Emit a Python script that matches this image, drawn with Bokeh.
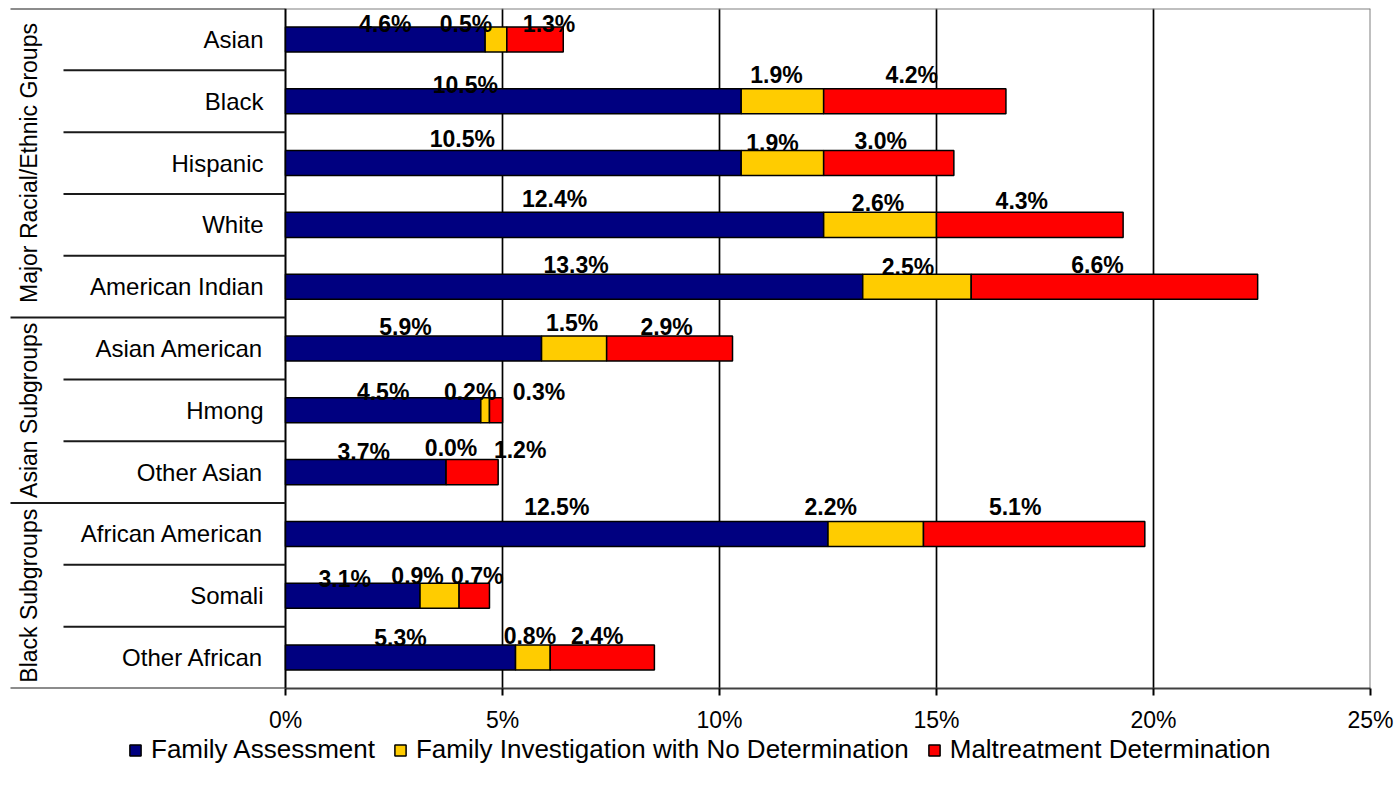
import math
from bokeh.plotting import figure
from bokeh.layouts import column
from bokeh.models import (ColumnDataSource, Range1d, FixedTicker,
                          Legend, LegendItem)
from bokeh.core.properties import value
from bokeh.embed import file_html
from bokeh.resources import INLINE

# ---------------- data ----------------
categories = ["Asian", "Black", "Hispanic", "White", "American Indian",
              "Asian American", "Hmong", "Other Asian",
              "African American", "Somali", "Other African"]
family_assessment = [4.6, 10.5, 10.5, 12.4, 13.3, 5.9, 4.5, 3.7, 12.5, 3.1, 5.3]
no_determination = [0.5, 1.9, 1.9, 2.6, 2.5, 1.5, 0.2, 0.0, 2.2, 0.9, 0.8]
maltreatment = [1.3, 4.2, 3.0, 4.3, 6.6, 2.9, 0.3, 1.2, 5.1, 0.7, 2.4]
series_names = ["Family Assessment",
                "Family Investigation with No Determination",
                "Maltreatment Determination"]
groups = ["Major Racial/Ethnic Groups", "Asian Subgroups", "Black Subgroups"]
group_sizes = [5, 3, 3]
x_ticks = [0, 5, 10, 15, 20, 25]

# label nudges in pixels (style only), per category x series
label_dx = [[0, -30, 14], [-48, -6, -3], [-51, -10, -8], [0, -2, -8],
            [2, -9, -17], [-8, -2, -3], [0, -15, 43], [-2, 5, 48],
            [0, -45, -19], [-8, -22, 3], [0, -3, -5]]
label_dy = [[1, 1, 1], [0, -10, -10], [-8, -4, -6], [-9, -5, -7],
            [-5, -3, -5], [-5, -9, -5], [-2, -2, -2], [-4, -8, -6],
            [-10, -10, -10], [0, -3, -3], [-3, -5, -5]]

# ---------------- style / layout ----------------
COLORS = ["#000080", "#FFCC00", "#FF0000"]
FONT = "Liberation Sans"
BAR_H = 0.405
W = 1398
H_MAIN = 735
H_LEG = 30
LABEL_AREA = 285          # px left of the 0% line
RIGHT_PAD = 28
TOP_PAD = 8
BOTTOM_PAD = H_MAIN - 688
X_MAX = x_ticks[-1]
plot_w = W - LABEL_AREA - RIGHT_PAD
x_start = -X_MAX * LABEL_AREA / plot_w

n = len(categories)
y_pos = [n - i - 0.5 for i in range(n)]

p = figure(width=W, height=H_MAIN, output_backend="svg", toolbar_location=None,
           x_range=Range1d(x_start, X_MAX), y_range=Range1d(0, n),
           y_axis_location=None,
           min_border_left=0, min_border_right=RIGHT_PAD,
           min_border_top=TOP_PAD, min_border_bottom=BOTTOM_PAD)
p.background_fill_color = "white"
p.border_fill_color = "white"
p.outline_line_color = None

# grid
p.xgrid.ticker = FixedTicker(ticks=x_ticks[1:-1])
p.xgrid.grid_line_color = "black"
p.xgrid.grid_line_width = 1.7
p.ygrid.visible = False

# plot-area border: top and right grey, left black
p.segment(x0=[0, X_MAX], y0=[n, 0], x1=[X_MAX, X_MAX], y1=[n, n],
          line_color="#808080", line_width=2)
p.segment(x0=[0], y0=[0], x1=[0], y1=[n], line_color="black", line_width=2)

# bars
lefts = [0.0] * n
series = [family_assessment, no_determination, maltreatment]
bar_bounds = []
bar_sources = []
for s, col in zip(series, COLORS):
    rights = [l + v for l, v in zip(lefts, s)]
    src = ColumnDataSource(dict(y=y_pos, left=lefts, right=rights))
    p.hbar(y="y", left="left", right="right", height=BAR_H, source=src,
           fill_color=col, line_color="black", line_width=1.5)
    bar_bounds.append((lefts, rights))
    bar_sources.append(src)
    lefts = rights

# value labels
lx, ly, lt, ldx, ldy = [], [], [], [], []
for j, s in enumerate(series):
    L, R = bar_bounds[j]
    for i in range(n):
        lx.append((L[i] + R[i]) / 2)
        ly.append(y_pos[i] + BAR_H / 2)
        lt.append(f"{s[i]:.1f}%")
        ldx.append(label_dx[i][j])
        ldy.append(-4 + label_dy[i][j])
lsrc = ColumnDataSource(dict(x=lx, y=ly, text=lt, dx=ldx, dy=ldy))
p.text(x="x", y="y", text="text", x_offset="dx", y_offset="dy", source=lsrc,
       text_align="center", text_baseline="alphabetic",
       text_font=value(FONT), text_font_style="bold", text_font_size="23px",
       text_color="black")

# row / group separators on the left
cum = 0
group_bounds = [n]
group_centers = []
for g in group_sizes:
    group_centers.append(n - cum - g / 2)
    cum += g
    group_bounds.append(n - cum)
inner_bounds = [k for k in range(1, n) if k not in group_bounds]
p.ray(x=[0] * len(group_bounds), y=group_bounds, length=275, angle=math.pi,
      length_units="screen", line_color="#1a1a1a", line_width=2)
p.ray(x=[0] * len(inner_bounds), y=inner_bounds, length=222, angle=math.pi,
      length_units="screen", line_color="#1a1a1a", line_width=2)

# category labels
csrc = ColumnDataSource(dict(x=[0] * n, y=y_pos, text=categories))
p.text(x="x", y="y", text="text", source=csrc, x_offset=-22,
       text_align="right", text_baseline="middle",
       text_font=value(FONT), text_font_size="24px", text_color="black")
# group labels
gsrc = ColumnDataSource(dict(x=[0] * len(groups), y=group_centers, text=groups))
p.text(x="x", y="y", text="text", source=gsrc, x_offset=-257,
       angle=math.pi / 2, text_align="center", text_baseline="middle",
       text_font=value(FONT), text_font_size="23px", text_color="black")

# x axis
p.xaxis.ticker = FixedTicker(ticks=x_ticks)
p.xaxis.bounds = (0, X_MAX)
p.xaxis.major_label_overrides = {t: f"{t}%" for t in x_ticks}
p.xaxis.major_label_text_font = FONT
p.xaxis.major_label_text_font_size = "23px"
p.xaxis.major_label_text_color = "black"
p.xaxis.major_label_standoff = 11
p.xaxis.axis_line_color = "#404040"
p.xaxis.axis_line_width = 2
p.xaxis.major_tick_line_color = "black"
p.xaxis.major_tick_line_width = 2
p.xaxis.major_tick_in = 0
p.xaxis.major_tick_out = 7
p.xaxis.minor_tick_line_color = None

# legend in its own strip below the chart (hidden copies of the bar renderers)
pl = figure(width=W, height=H_LEG, output_backend="svg", toolbar_location=None,
            x_range=Range1d(0, 1), y_range=Range1d(0, 1),
            x_axis_location=None, y_axis_location=None,
            min_border_left=0, min_border_right=0,
            min_border_top=0, min_border_bottom=0)
pl.outline_line_color = None
pl.xgrid.visible = False
pl.ygrid.visible = False
items = []
for nm, col, src in zip(series_names, COLORS, bar_sources):
    r = pl.hbar(y="y", left="left", right="right", height=BAR_H, source=src,
                fill_color=col, line_color="black", line_width=1.5,
                visible=False)
    items.append(LegendItem(label=nm, renderers=[r]))
legend = Legend(items=items, orientation="horizontal", location=(128, 0),
                border_line_color=None, background_fill_alpha=0,
                inactive_fill_alpha=0,
                label_text_font=FONT, label_text_font_size="26px",
                label_text_color="black",
                glyph_width=14, glyph_height=14, label_standoff=9,
                spacing=18, padding=2, margin=0)
pl.add_layout(legend, "center")

layout = column(p, pl)
open("out.html", "w").write(file_html(layout, INLINE))
